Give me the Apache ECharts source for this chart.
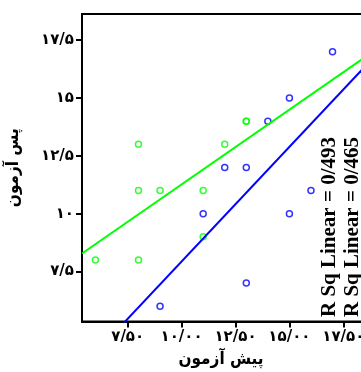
<!DOCTYPE html>
<html>
<head>
<meta charset="utf-8">
<script src="https://cdn.jsdelivr.net/npm/echarts@6/dist/echarts.min.js"></script>
<style>
  html, body { margin: 0; padding: 0; background: #fff; }
  #main { width: 361px; height: 372px; }
</style>
</head>
<body>
<div id="main"></div>
<script>
// pre-test / post-test scores, two groups
var blueX = [17, 15, 14, 12, 13, 16, 11, 15, 13, 9];
var blueY = [17, 15, 14, 12, 12, 11, 10, 10, 7, 6];
var greenX = [8, 12, 13, 13, 8, 9, 11, 11, 6, 8];
var greenY = [13, 13, 14, 14, 11, 11, 11, 9, 8, 8];

var xTickValues = [7.5, 10, 12.5, 15, 17.5];
var xTickLabels = ['۷/۵۰', '۱۰/۰۰', '۱۲/۵۰', '۱۵/۰۰', '۱۷/۵۰'];
var yTickValues = [7.5, 10, 12.5, 15, 17.5];
var yTickLabels = ['۷/۵', '۱۰', '۱۲/۵', '۱۵', '۱۷/۵'];

var rsqLabels = ['R Sq Linear = 0/493', 'R Sq Linear = 0/465'];

var xMin = 5.38, xMax = 18.97;
var yMin = 5.34, yMax = 18.63;

function pairs(xs, ys) {
  return xs.map(function (x, i) { return [x, ys[i]]; });
}

// least squares fit line across the whole x range
function fitLine(xs, ys) {
  var n = xs.length, mx = 0, my = 0;
  for (var i = 0; i < n; i++) { mx += xs[i]; my += ys[i]; }
  mx /= n; my /= n;
  var sxy = 0, sxx = 0;
  for (var j = 0; j < n; j++) {
    sxy += (xs[j] - mx) * (ys[j] - my);
    sxx += (xs[j] - mx) * (xs[j] - mx);
  }
  var b = sxy / sxx, a = my - b * mx;
  return [[xMin, a + b * xMin], [xMax, a + b * xMax]];
}

var chart = echarts.init(document.getElementById('main'));
var labelFont = { fontFamily: 'DejaVu Sans', fontWeight: 'bold', fontSize: 15, color: '#000' };

var option = {
  animation: false,
  grid: {
    left: 82, top: 14, right: -14, bottom: 50.5,
    outerBoundsMode: 'none', containLabel: false,
    show: true, borderColor: '#000', borderWidth: 2
  },
  xAxis: {
    type: 'value', min: xMin, max: xMax,
    splitLine: { show: false },
    axisLine: { onZero: false, lineStyle: { color: '#000', width: 2 } },
    axisTick: { customValues: xTickValues, length: 6, lineStyle: { color: '#000', width: 2 } },
    axisLabel: Object.assign({
      customValues: xTickValues, margin: 8,
      formatter: function (v) { return xTickLabels[xTickValues.indexOf(v)]; }
    }, labelFont)
  },
  yAxis: {
    type: 'value', min: yMin, max: yMax,
    name: 'پس آزمون', nameLocation: 'middle', nameGap: 60, nameRotate: 90,
    nameTextStyle: { fontFamily: 'DejaVu Sans Condensed', fontWeight: 'bold', fontSize: 17, color: '#000' },
    splitLine: { show: false },
    axisLine: { onZero: false, lineStyle: { color: '#000', width: 2 } },
    axisTick: { customValues: yTickValues, length: 6, lineStyle: { color: '#000', width: 2 } },
    axisLabel: Object.assign({
      customValues: yTickValues, margin: 8,
      formatter: function (v) { return yTickLabels[yTickValues.indexOf(v)]; }
    }, labelFont)
  },
  graphic: [
    {
      type: 'text', x: 221, y: 360,
      style: { text: 'پیش آزمون', fill: '#000', font: 'bold 17px "DejaVu Sans Condensed"', align: 'center', verticalAlign: 'middle' }
    },
    {
      type: 'text', x: 319, y: 317, rotation: Math.PI / 2,
      style: { text: rsqLabels[0], fill: '#000', font: 'bold 21px "Liberation Serif"', align: 'left', verticalAlign: 'top' }
    },
    {
      type: 'text', x: 342, y: 317, rotation: Math.PI / 2,
      style: { text: rsqLabels[1], fill: '#000', font: 'bold 21px "Liberation Serif"', align: 'left', verticalAlign: 'top' }
    }
  ],
  series: [
    {
      type: 'line', data: fitLine(blueX, blueY), clip: true, symbol: 'none',
      lineStyle: { color: '#0000ff', width: 2 }
    },
    {
      type: 'line', data: fitLine(greenX, greenY), clip: true, symbol: 'none',
      lineStyle: { color: '#00ff00', width: 2 }
    },
    {
      type: 'scatter', data: pairs(greenX, greenY), symbol: 'circle', symbolSize: 6,
      itemStyle: { color: 'rgba(0,0,0,0)', borderColor: '#00ff00', borderWidth: 1.5 }
    },
    {
      type: 'scatter', data: pairs(blueX, blueY), symbol: 'circle', symbolSize: 6,
      itemStyle: { color: 'rgba(0,0,0,0)', borderColor: '#0000ff', borderWidth: 1.5 }
    }
  ]
};

chart.setOption(option);
</script>
</body>
</html>
